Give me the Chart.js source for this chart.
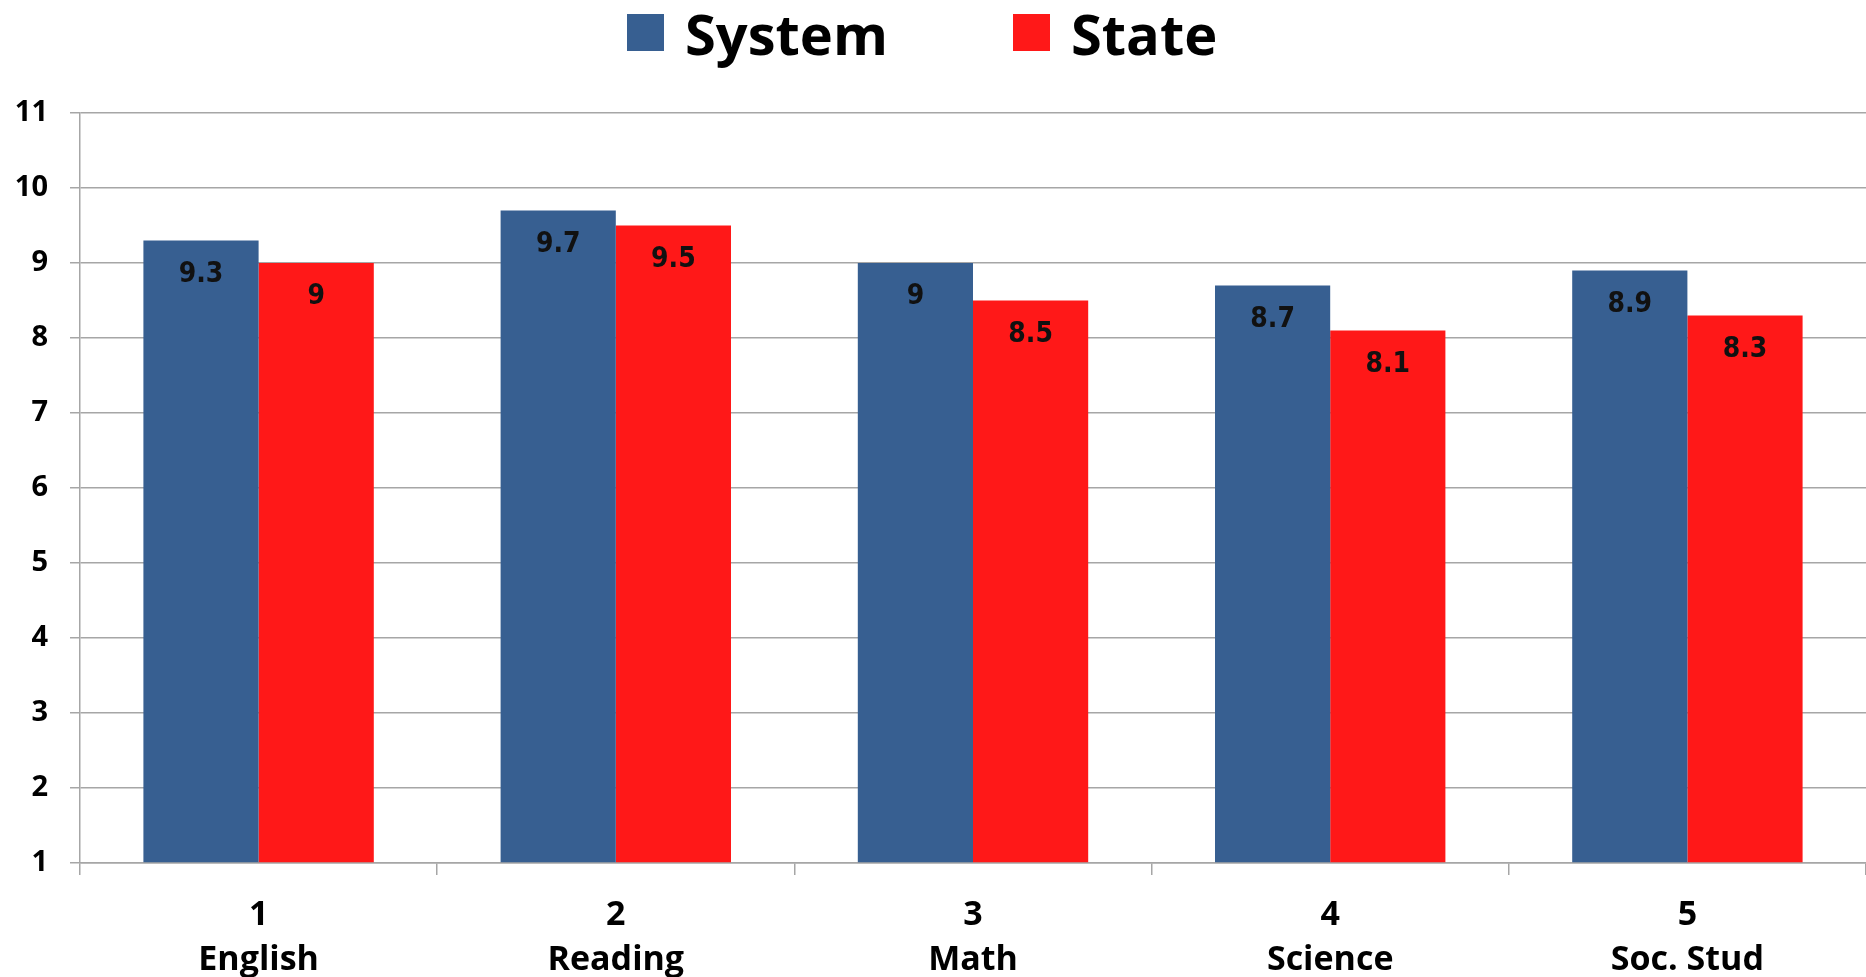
<!DOCTYPE html>
<html>
<head>
<meta charset="utf-8">
<script src="https://cdn.jsdelivr.net/npm/chart.js@4/dist/chart.umd.min.js"></script>
<style>
  html, body { margin: 0; padding: 0; background: #fff; }
  #wrap { position: relative; width: 1866px; height: 977px; }
  #legend { position: absolute; top: 0; left: 627px; height: 65px; display: flex; align-items: center;
            font-family: "Open Sans", Lato, sans-serif; font-weight: bold; font-size: 56px; color: #000; }
  .item { display: flex; align-items: center; }
  .box { width: 37px; height: 37px; margin-right: 21px; }
</style>
</head>
<body>
<div id="wrap">
  <canvas id="c" width="1866" height="977"></canvas>
  <div id="legend"></div>
</div>
<script>
const categories = [["1", "English"], ["2", "Reading"], ["3", "Math"], ["4", "Science"], ["5", "Soc. Stud"]];
const seriesNames = ["System", "State"];
const systemValues = [9.3, 9.7, 9.0, 8.7, 8.9];
const stateValues = [9.0, 9.5, 8.5, 8.1, 8.3];
const yTicks = [1, 2, 3, 4, 5, 6, 7, 8, 9, 10, 11];
const colors = ["#375F91", "#FF1818"];

// HTML legend
const legend = document.getElementById('legend');
seriesNames.forEach((name, i) => {
  const it = document.createElement('div');
  it.className = 'item';
  if (i > 0) it.style.marginLeft = '125px';
  const b = document.createElement('div');
  b.className = 'box';
  b.style.background = colors[i];
  const t = document.createElement('span');
  t.textContent = name;
  it.appendChild(b); it.appendChild(t);
  legend.appendChild(it);
});

const valueLabels = {
  id: 'valueLabels',
  afterDatasetsDraw(chart) {
    const ctx = chart.ctx;
    ctx.save();
    ctx.font = 'bold 28px "DejaVu Sans Condensed", "DejaVu Sans", sans-serif';
    ctx.fillStyle = '#111';
    ctx.textAlign = 'center';
    ctx.textBaseline = 'middle';
    chart.data.datasets.forEach((ds, di) => {
      const meta = chart.getDatasetMeta(di);
      meta.data.forEach((bar, i) => {
        const v = ds.data[i];
        const txt = Number.isInteger(v) ? String(v) : v.toFixed(1);
        ctx.fillText(txt, bar.x, bar.y + 34);
      });
    });
    ctx.restore();
  }
};

new Chart(document.getElementById('c'), {
  type: 'bar',
  data: {
    labels: categories,
    datasets: [
      { label: seriesNames[0], data: systemValues, backgroundColor: colors[0], base: 1 },
      { label: seriesNames[1], data: stateValues, backgroundColor: colors[1], base: 1 }
    ]
  },
  options: {
    responsive: false,
    animation: false,
    devicePixelRatio: 1,
    layout: { padding: { top: 113, left: 0, right: 0, bottom: 0 } },
    datasets: { bar: { categoryPercentage: 0.645, barPercentage: 1.0 } },
    plugins: { legend: { display: false }, tooltip: { enabled: false } },
    scales: {
      x: {
        afterFit: (scale) => { scale.height = 114; },
        grid: { offset: true, drawOnChartArea: false, drawTicks: true, tickLength: 12, color: '#a6a6a6', lineWidth: 1.5 },
        border: { color: '#a6a6a6', width: 1.5 },
        ticks: {
          color: '#000', padding: 18,
          font: { family: '"Open Sans", Lato, sans-serif', weight: 'bold', size: 34, lineHeight: 1.32 }
        }
      },
      y: {
        min: 1, max: 11,
        afterBuildTicks: (scale) => { scale.ticks = yTicks.map(v => ({ value: v })); },
        afterFit: (scale) => { scale.width = 80; },
        grid: { color: '#a6a6a6', lineWidth: 1.5, tickLength: 10 },
        border: { color: '#a6a6a6', width: 1.5 },
        ticks: {
          color: '#000', padding: 22,
          font: { family: '"Open Sans", Lato, sans-serif', weight: 'bold', size: 29 }
        }
      }
    }
  },
  plugins: [valueLabels]
});
</script>
</body>
</html>
